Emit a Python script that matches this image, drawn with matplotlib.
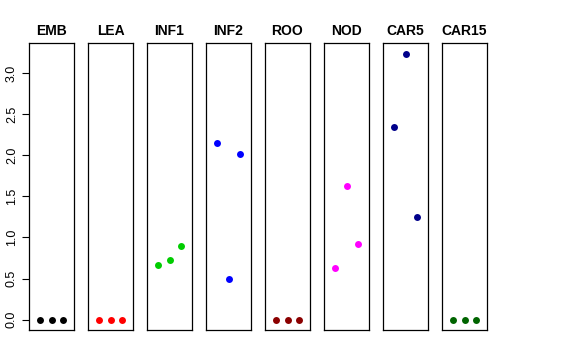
import matplotlib
matplotlib.use("Agg")
import matplotlib.pyplot as plt
import numpy as np

plt.rcParams['font.family'] = ['Liberation Sans', 'DejaVu Sans']

tissues = ['EMB', 'LEA', 'INF1', 'INF2', 'ROO', 'NOD', 'CAR5', 'CAR15']
colors = ['black', 'red', '#00cd00', 'blue', '#8b0000', 'magenta', '#00008b', '#006400']
reps = [1, 2, 3]
vals = {
    'EMB': [0.0, 0.0, 0.0],
    'LEA': [0.0, 0.0, 0.0],
    'INF1': [0.67, 0.73, 0.90],
    'INF2': [2.155, 0.49, 2.013],
    'ROO': [0.0, 0.0, 0.0],
    'NOD': [0.63, 1.63, 0.92],
    'CAR5': [2.34, 3.236, 1.248],
    'CAR15': [0.0, 0.0, 0.0],
}
yticks = [0.0, 0.5, 1.0, 1.5, 2.0, 2.5, 3.0]

W, H = 576, 360
fig = plt.figure(figsize=(W / 100, H / 100), dpi=100)

for i, (t, c) in enumerate(zip(tissues, colors)):
    left = 29 + 59 * i
    ax = fig.add_axes([left / W, 30 / H, 45 / W, 287 / H])
    ax.plot(reps, vals[t], 'o', color=c, markersize=5, markeredgewidth=0)
    ax.set_xlim(0, 4)
    ax.set_ylim(-0.125, 3.365)
    ax.set_xticks([])
    ax.set_title(t, fontsize=10, fontweight='bold', pad=6)
    for s in ax.spines.values():
        s.set_linewidth(0.9)
    if i == 0:
        ax.set_yticks(yticks)
        ax.set_yticklabels(['%.1f' % v for v in yticks], rotation=90, va='center', fontsize=9)
        ax.tick_params(axis='y', length=5, width=0.8, pad=3)
    else:
        ax.set_yticks([])

fig.savefig('out.png', dpi=100)
